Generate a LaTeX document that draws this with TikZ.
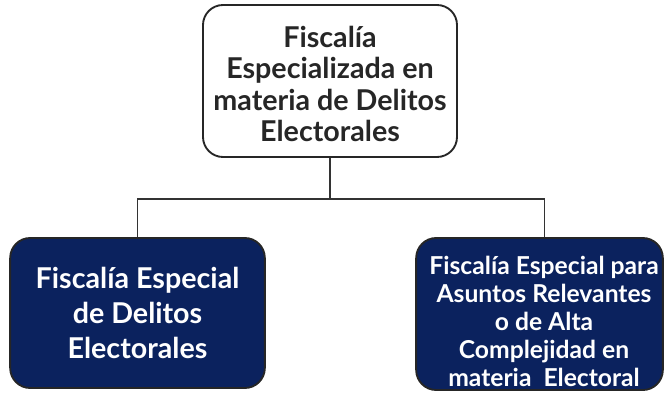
\documentclass[tikz,border=0pt]{standalone}
\usepackage{fontspec}
\setmainfont{Lato}
\usetikzlibrary{positioning}
\definecolor{navy}{RGB}{11,34,94}

\begin{document}
\begin{tikzpicture}[x=0.75pt, y=-0.75pt, thick,
	box/.style={draw=black!85, line width=1.4pt, rounded corners=15pt, align=center, inner sep=0pt,
		font=\bfseries},
	topbox/.style={box, fill=white, text=black!85, minimum width=190.5pt, minimum height=114pt,
		font=\bfseries\fontsize{21.5}{23.5}\selectfont},
	subbox/.style={box, fill=navy, text=white}]
	\useasboundingbox (0, 0) rectangle (666, 395);

	\node[topbox] (fisc) at (330, 81) {};
	\node[align=center, text=black!85, font=\bfseries\fontsize{21.5}{23.5}\selectfont] (fisct) at (330, 84) {Fiscalía\\Especializada en\\materia de Delitos\\Electorales};

	\node[subbox, minimum width=191pt, minimum height=112.5pt,
		font=\bfseries\fontsize{21.5}{26}\selectfont] (fede) at (137.5, 313) {Fiscalía Especial\\de Delitos\\Electorales};
	\node[subbox, minimum width=185pt, minimum height=114pt] (fear) at (539.5, 314) {};
	\node[align=center, text=white, font=\bfseries\fontsize{18.5}{21}\selectfont] (feart) at (544, 321) {Fiscalía Especial para\\Asuntos Relevantes\\o de Alta\\Complejidad en\\materia~ Electoral};

	\coordinate (bus) at (330, 199);
	\draw[black!80, line width=1pt] (fisc.south) -- (bus);
	\draw[black!80, line width=1pt] (fede.north) |- (bus) -| ([xshift=3.5pt]fear.north);
\end{tikzpicture}
\end{document}
